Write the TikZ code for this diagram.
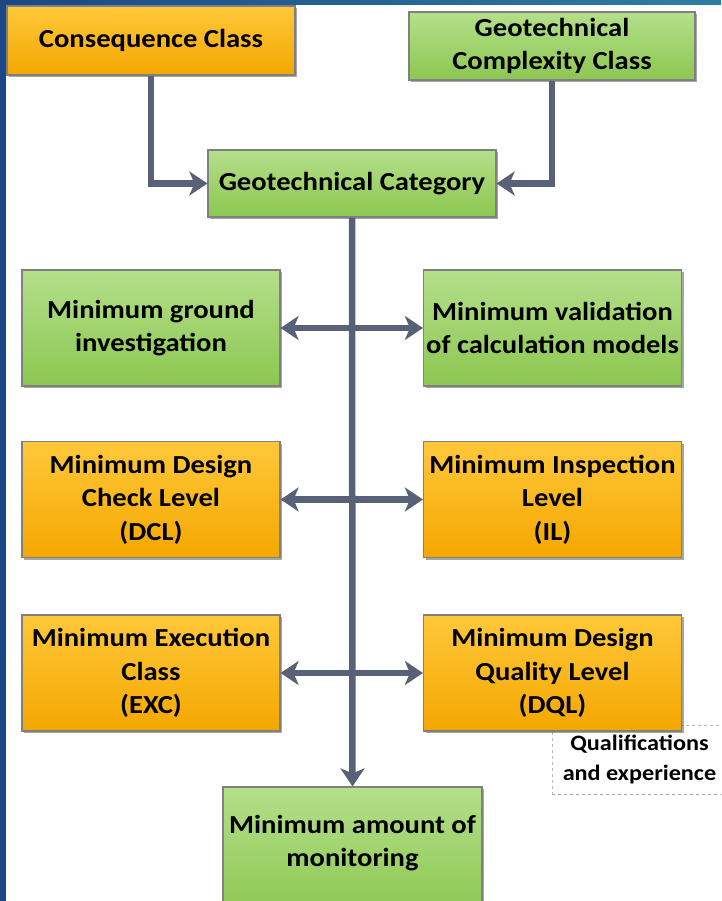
\documentclass[tikz,border=0pt]{standalone}
\usepackage{fontspec}
\setmainfont{Carlito}[FakeStretch=1.1]
\usetikzlibrary{arrows.meta,shadows}

\definecolor{navy}{HTML}{1B4785}
\definecolor{bandteal}{HTML}{2E7FA3}
\definecolor{grtop}{HTML}{B4DF8A}
\definecolor{grbot}{HTML}{8CC751}
\definecolor{ortop}{HTML}{FFC83A}
\definecolor{orbot}{HTML}{F4A700}
\definecolor{boxline}{HTML}{7F8080}
\definecolor{arrowc}{HTML}{596178}

\tikzset{
  box/.style={draw=boxline, line width=1.2pt,
    drop shadow={shadow xshift=2pt, shadow yshift=-2pt, opacity=0.35, fill=black},
    align=center, inner sep=0pt,
    font=\bfseries\fontsize{26}{33.5}\selectfont},
  greenbox/.style={box, top color=grtop, bottom color=grbot},
  orangebox/.style={box, top color=ortop, bottom color=orbot},
  sidebox/.style={minimum width=258pt, minimum height=116pt},
  link/.style={draw=arrowc, line width=6.5pt},
  headtip/.style={-{Stealth[length=18pt,width=24pt,inset=5pt]}},
  bothtips/.style={{Stealth[length=18pt,width=24pt,inset=5pt]}-{Stealth[length=18pt,width=24pt,inset=5pt]}},
  notebox/.style={draw=gray!55, dashed, line width=0.8pt, fill=white,
    minimum width=175pt, minimum height=69pt, inner sep=0pt, align=center,
    font=\bfseries\fontsize{22}{30}\selectfont}
}

\begin{document}
\begin{tikzpicture}[x=1pt,y=-1pt]
  \useasboundingbox (0,0) rectangle (721,901);
  \clip (0,0) rectangle (721,901);

  % backdrop: blue frame along the left and top, white page
  \fill[navy] (0,0) rectangle (721,901);
  \shade[left color=navy, right color=bandteal] (0,0) rectangle (721,5);
  \fill[white] (6,5) rectangle (721,901);

  % inputs and category
  \node[orangebox, minimum width=288pt, minimum height=69pt] (cons) at (151,40.5) {Consequence Class};
  \node[greenbox, minimum width=286pt, minimum height=68pt] (compl) at (552,46) {Geotechnical\\Complexity Class};
  \node[greenbox, minimum width=288pt, minimum height=67pt] (cat) at (352,183.5) {Geotechnical Category};

  % side requirements
  \node[greenbox, sidebox] (ground) at (151,328) {Minimum ground\\investigation};
  \node[greenbox, sidebox] (valid) at (552.5,328) {Minimum validation\\of calculation models};
  \node[orangebox, sidebox] (dcl) at (151,499.5) {Minimum Design\\Check Level\\(DCL)};
  \node[orangebox, sidebox] (il) at (552.5,499.5) {Minimum Inspection\\Level\\(IL)};
  \node[orangebox, sidebox] (exc) at (151,673) {Minimum Execution\\Class\\(EXC)};

  % note sits behind the DQL box
  \node[notebox] (qual) at (639.5,759.5) {Qualifications\\and experience};
  \draw[gray!70, dashed, line width=1.6pt] (qual.south west) -- (qual.south east);

  \node[orangebox, sidebox] (dql) at (552.5,673) {Minimum Design\\Quality Level\\(DQL)};

  % monitoring at the bottom
  \node[greenbox, minimum width=259pt, minimum height=130pt] (mon) at (352.5,852) {};
  \node[font=\bfseries\fontsize{26}{33.5}\selectfont, align=center] (montext) at (352.5,843) {Minimum amount of\\monitoring};

  % connectors
  \draw[link, headtip] (cons.south) |- (cat.west);
  \draw[link, headtip] (compl.south) |- (cat.east);
  \draw[link, headtip] (cat.south) -- (mon.north);
  \draw[link, bothtips] (ground.east) -- (valid.west);
  \draw[link, bothtips] (dcl.east) -- (il.west);
  \draw[link, bothtips] (exc.east) -- (dql.west);
\end{tikzpicture}
\end{document}
